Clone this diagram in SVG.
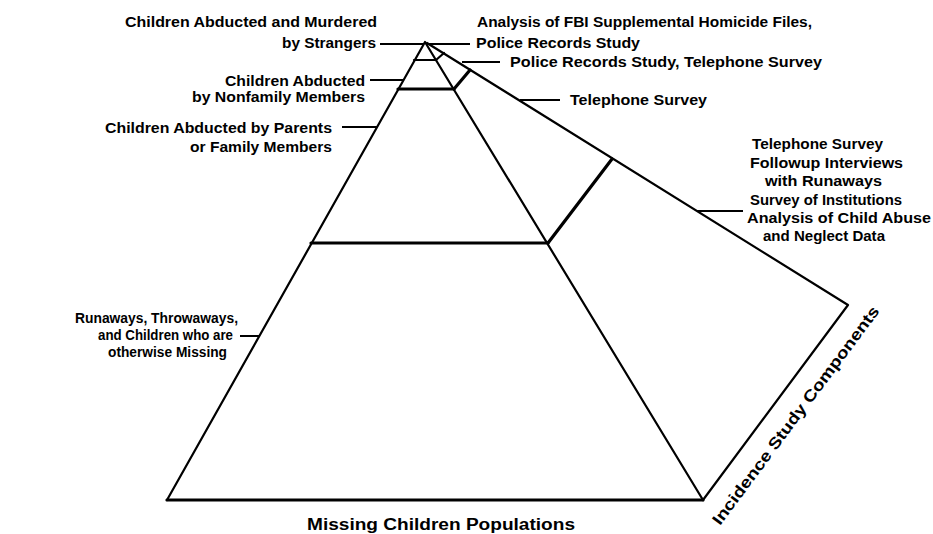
<svg xmlns="http://www.w3.org/2000/svg" width="933" height="534" viewBox="0 0 933 534">
<style>
.lbl{font-family:"Liberation Sans",Arial,sans-serif;font-weight:bold;font-size:14px;fill:#000}
.big{font-size:16px}
.edge{stroke:#000;stroke-width:2.2;fill:none;stroke-linecap:round;stroke-linejoin:round}
.thick{stroke:#000;stroke-width:3.2;fill:none;stroke-linecap:round}
.lead{stroke:#000;stroke-width:2;fill:none}
</style>
<rect width="933" height="534" fill="#fff"/>
<g id="pyramid">
<polyline class="edge" points="167,500 425,42 703,500"/>
<line class="thick" x1="167" y1="500" x2="703" y2="500"/>
<polyline class="edge" points="427,43 848,305 703,500"/>
<line class="edge" x1="414" y1="60" x2="436" y2="60"/>
<line class="thick" x1="398" y1="89" x2="454" y2="89"/>
<line class="thick" x1="311" y1="243" x2="548" y2="243"/>
<line class="edge" x1="436" y1="60" x2="444" y2="53"/>
<line class="thick" x1="454" y1="89" x2="470" y2="70"/>
<line class="thick" x1="548" y1="243" x2="612" y2="159"/>
</g>
<g id="connectors">
<line class="lead" x1="380" y1="44" x2="424" y2="44"/>
<line class="lead" x1="426" y1="44" x2="470" y2="44"/>
<line class="lead" x1="462" y1="62" x2="500" y2="62"/>
<line class="lead" x1="370" y1="80" x2="404" y2="80"/>
<line class="lead" x1="342" y1="127" x2="377" y2="127"/>
<line class="lead" x1="520" y1="100" x2="560" y2="100"/>
<line class="lead" x1="697" y1="211" x2="743" y2="211"/>
<line class="lead" x1="240" y1="336" x2="259" y2="336"/>
</g>
<g id="pop-murdered">
<text class="lbl" x="125" y="27" textLength="252" lengthAdjust="spacingAndGlyphs">Children Abducted and Murdered</text>
<text class="lbl" x="282" y="48" textLength="94" lengthAdjust="spacingAndGlyphs">by Strangers</text>
</g>
<g id="pop-nonfamily">
<text class="lbl" x="225" y="86" textLength="140" lengthAdjust="spacingAndGlyphs">Children Abducted</text>
<text class="lbl" x="192" y="102" textLength="173" lengthAdjust="spacingAndGlyphs">by Nonfamily Members</text>
</g>
<g id="pop-parents">
<text class="lbl" x="105" y="133" textLength="227" lengthAdjust="spacingAndGlyphs">Children Abducted by Parents</text>
<text class="lbl" x="190" y="152" textLength="142" lengthAdjust="spacingAndGlyphs">or Family Members</text>
</g>
<g id="pop-runaways">
<text class="lbl" x="75" y="323" textLength="163" lengthAdjust="spacingAndGlyphs">Runaways, Throwaways,</text>
<text class="lbl" x="98" y="340" textLength="135" lengthAdjust="spacingAndGlyphs">and  Children who are</text>
<text class="lbl" x="108" y="357" textLength="119" lengthAdjust="spacingAndGlyphs">otherwise Missing</text>
</g>
<g id="comp-fbi">
<text class="lbl" x="477" y="27" textLength="335" lengthAdjust="spacingAndGlyphs">Analysis of FBI Supplemental Homicide Files,</text>
<text class="lbl" x="476" y="48" textLength="164" lengthAdjust="spacingAndGlyphs">Police Records Study</text>
</g>
<g id="comp-police-tel">
<text class="lbl" x="510" y="67" textLength="312" lengthAdjust="spacingAndGlyphs">Police Records Study, Telephone Survey</text>
</g>
<g id="comp-tel">
<text class="lbl" x="570" y="105" textLength="137" lengthAdjust="spacingAndGlyphs">Telephone Survey</text>
</g>
<g id="comp-runaways">
<text class="lbl" x="752" y="149" textLength="131" lengthAdjust="spacingAndGlyphs">Telephone Survey</text>
<text class="lbl" x="750" y="168" textLength="153" lengthAdjust="spacingAndGlyphs">Followup Interviews</text>
<text class="lbl" x="765" y="186" textLength="117" lengthAdjust="spacingAndGlyphs">with Runaways</text>
<text class="lbl" x="750" y="205" textLength="152" lengthAdjust="spacingAndGlyphs">Survey of Institutions</text>
<text class="lbl" x="747" y="223" textLength="184" lengthAdjust="spacingAndGlyphs">Analysis of Child Abuse</text>
<text class="lbl" x="763" y="241" textLength="122" lengthAdjust="spacingAndGlyphs">and Neglect Data</text>
</g>
<g id="axis-labels">
<text class="lbl big" x="307" y="530" textLength="268" lengthAdjust="spacingAndGlyphs">Missing Children Populations</text>
<text class="lbl big" transform="translate(720,526) rotate(-53.3)" x="0" y="0" textLength="268" lengthAdjust="spacingAndGlyphs">Incidence Study Components</text>
</g>
</svg>
